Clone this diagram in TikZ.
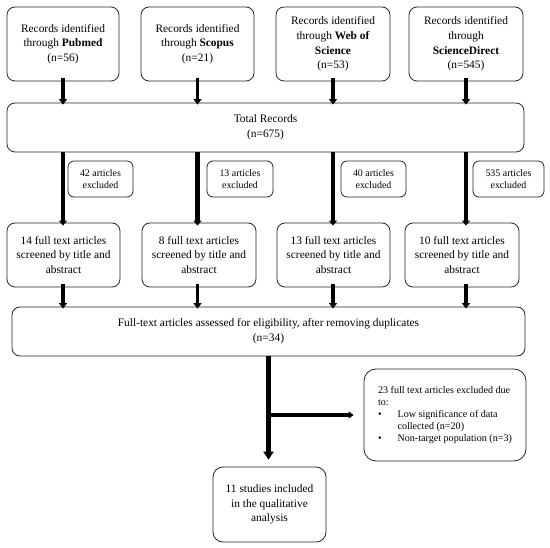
\documentclass[tikz,border=0pt]{standalone}
\usepackage{fontspec}
\setmainfont{Liberation Serif}
\usetikzlibrary{arrows.meta}
\begin{document}
\begin{tikzpicture}[x=1pt,y=-1pt,
  box/.style={draw=black!85, line width=0.8pt, rounded corners=8pt, align=center, inner sep=2pt, font=\fontsize{11.4}{14.6}\selectfont},
  small/.style={draw=black!85, line width=0.8pt, rounded corners=6pt, align=center, inner sep=1pt, font=\fontsize{9.9}{12.5}\selectfont, minimum height=36pt},
  sarr/.style={line width=3.4pt, -{Triangle[width=8pt,length=5.5pt]}},
  larr/.style={line width=4.2pt, -{Triangle[width=8pt,length=5pt]}},
  marr/.style={line width=5.5pt, -{Triangle[width=10pt,length=8pt]}},
  harr/.style={line width=3.8pt, -{Triangle[width=7pt,length=5pt]}}
]
\useasboundingbox (0,0) rectangle (550,548);
% top row
\node[box, minimum width=112pt, minimum height=74pt] (b1) at (63,44) {Records identified\\through \textbf{Pubmed}\\(n=56)};
\node[box, minimum width=113pt, minimum height=74pt] (b2) at (197.5,44) {Records identified\\through \textbf{Scopus}\\(n=21)};
\node[box, minimum width=114pt, minimum height=74pt] (b3) at (333,44) {Records identified\\through \textbf{Web of}\\\textbf{Science}\\(n=53)};
\node[box, minimum width=114pt, minimum height=74pt] (b4) at (466,44) {Records identified\\through\\\textbf{ScienceDirect}\\(n=545)};
% total
\node[box, minimum width=517pt, minimum height=49pt] (tot) at (265.5,127.5) {Total Records\\(n=675)};
% excluded
\node[small, minimum width=65pt] (e1) at (100.5,179) {42 articles\\excluded};
\node[small, minimum width=66pt] (e2) at (240,179) {13 articles\\excluded};
\node[small, minimum width=65pt] (e3) at (373.5,179) {40 articles\\excluded};
\node[small, minimum width=71pt] (e4) at (508.5,179) {535 articles\\excluded};
% screened
\node[box, minimum width=113pt, minimum height=64pt] (s1) at (63.5,255) {14 full text articles\\screened by title and\\abstract};
\node[box, minimum width=114pt, minimum height=64pt] (s2) at (199,255) {8 full text articles\\screened by title and\\abstract};
\node[box, minimum width=113pt, minimum height=64pt] (s3) at (333.5,255) {13 full text articles\\screened by title and\\abstract};
\node[box, minimum width=114pt, minimum height=64pt] (s4) at (462,255) {10 full text articles\\screened by title and\\abstract};
% full text
\node[box, minimum width=513pt, minimum height=49pt] (full) at (268.5,331.5) {Full-text articles assessed for eligibility, after removing duplicates\\(n=34)};
% exclusion
\node[box, rounded corners=12pt, minimum width=162pt, minimum height=92pt, align=left, font=\fontsize{10.1}{12.2}\selectfont] (exc) at (445,415) {23 full text articles excluded due\\to:\\\textbullet\hspace{16pt}Low significance of data\\\phantom{\textbullet}\hspace{16pt}collected (n=20)\\\textbullet\hspace{16pt}Non-target population (n=3)};
% final
\node[box, rounded corners=10pt, minimum width=113pt, minimum height=75pt] (fin) at (269.5,504.5) {11 studies included\\in the qualitative\\analysis};
% arrows top
\foreach \b in {b1,b2,b3,b4}{
  \draw[sarr] ([yshift=3pt]\b.south) -- ([yshift=-2pt]tot.north -| \b.south);
}
% long arrows
\draw[larr] (tot.south -| b1.south) -- ([yshift=-3pt]s1.north -| b1.south);
\draw[larr] (tot.south -| b2.south) -- ([yshift=-3pt]s2.north -| b2.south);
\draw[larr] (tot.south -| b3.south) -- ([yshift=-3pt]s3.north -| b3.south);
\draw[larr] (tot.south -| b4.south) -- ([yshift=-3pt]s4.north -| b4.south);
% row 2 arrows
\draw[sarr] ([yshift=3pt]s1.south -| b1.south) -- ([yshift=-2pt]full.north -| b1.south);
\draw[sarr] ([yshift=3pt]s2.south -| b2.south) -- ([yshift=-2pt]full.north -| b2.south);
\draw[sarr] ([yshift=3pt]s3.south -| b3.south) -- ([yshift=-2pt]full.north -| b3.south);
\draw[sarr] ([yshift=3pt]s4.south -| b4.south) -- ([yshift=-2pt]full.north -| b4.south);
% main arrow
\coordinate (br) at (full.south |- exc.west);
\draw[marr] (full.south) -- ([yshift=7pt]fin.north -| full.south);
\draw[harr] (br) -- ([xshift=-10pt]exc.west);
\end{tikzpicture}
\end{document}
